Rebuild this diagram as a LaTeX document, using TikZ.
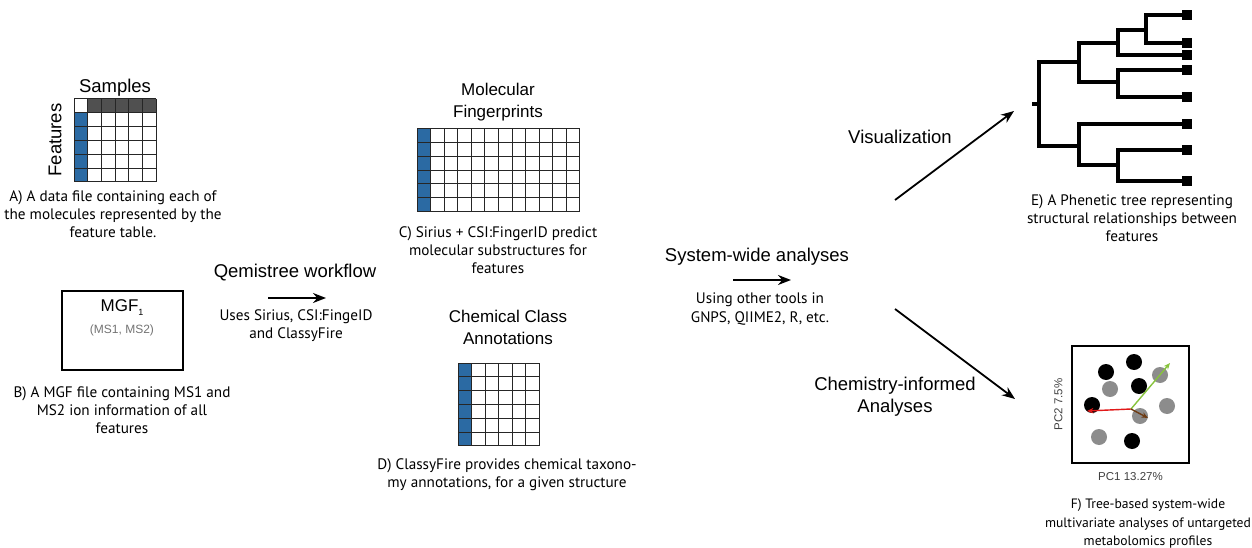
\documentclass[tikz,border=0pt]{standalone}
\usepackage{fontspec}
\setmainfont{PT Sans}
\newfontfamily\headfont{Liberation Sans}
\usetikzlibrary{arrows.meta,positioning}
\definecolor{cblue}{RGB}{43,106,163}
\definecolor{cheader}{RGB}{80,80,80}
\definecolor{cdot}{RGB}{140,140,140}
\definecolor{cgreen}{RGB}{135,195,60}
\definecolor{cred}{RGB}{225,25,25}
\definecolor{cbrown}{RGB}{110,60,20}

\begin{document}
\begin{tikzpicture}[x=1pt,y=-1pt,
    title/.style={font=\headfont\fontsize{18.5}{22.5}\selectfont, align=center, inner sep=0pt},
    subtitle/.style={font=\headfont\fontsize{17}{22}\selectfont, align=center, inner sep=0pt},
    caption/.style={font=\fontsize{15.2}{18.2}\selectfont, align=center, inner sep=0pt},
    flow/.style={line width=1.8pt, -{Stealth[length=13pt,width=10pt]}},
    cell/.style={draw=black!85, line width=1pt},
    branch/.style={line width=3.2pt},
    leaf/.style={fill=black, minimum size=10.5pt, inner sep=0pt},
    dot/.style={circle, minimum size=16pt, inner sep=0pt},
    loading/.style={line width=1.4pt, -{Stealth[length=6.5pt,width=5.5pt]}}]
  \useasboundingbox (0,0) rectangle (1252,548);

  % A) feature table
  \node[title] (Samples) at (115,88) {Samples};
  \node[title, rotate=90] (Features) at (55,140) {Features};
  \begin{scope}[shift={(74,99)}, x=13.67pt, y=-13.83pt]
    \fill[cheader] (1,0) rectangle (6,1);
    \fill[cblue] (0,1) rectangle (1,6);
    \foreach \i in {0,...,6} \draw[cell] (\i,0) -- (\i,6);
    \foreach \j in {0,...,6} \draw[cell] (0,\j) -- (6,\j);
  \end{scope}
  \node[caption] (CapA) at (113,214) {A) A data file containing each of\\the molecules represented by the\\feature table.};

  % B) MGF file
  \node[draw, line width=1.8pt, minimum width=121, minimum height=79] (MgfBox) at (122.5,330.5) {};
  \node[font=\headfont\fontsize{17}{18}\selectfont] (MgfName) at (122,308) {MGF\raisebox{-4pt}{\fontsize{9}{9}\selectfont 1}};
  \node[font=\headfont\fontsize{12}{13}\selectfont, text=black!55] (MgfMs) at (122,330) {(MS1, MS2)};
  \node[caption] (CapB) at (122,410) {B) A MGF file containing MS1 and\\MS2 ion information of all\\features};

  % workflow arrow
  \node[title] (Qemistree) at (295,273) {Qemistree workflow};
  \coordinate (QemStart) at (268,298);
  \coordinate (QemEnd) at (326,298);
  \draw[flow] (QemStart) -- (QemEnd);
  \node[caption] (QemTools) at (296,325.5) {Uses Sirius, CSI:FingeID\\and ClassyFire};

  % C) fingerprints
  \node[subtitle] (Fingerprints) at (498,102) {Molecular\\Fingerprints};
  \begin{scope}[shift={(417,129)}, x=13.58pt, y=-13.67pt]
    \fill[cblue] (0,0) rectangle (1,6);
    \foreach \i in {0,...,12} \draw[cell] (\i,0) -- (\i,6);
    \foreach \j in {0,...,6} \draw[cell] (0,\j) -- (12,\j);
  \end{scope}
  \node[caption] (CapC) at (498,250) {C) Sirius + CSI:FingerID predict\\molecular substructures for\\features};

  % D) class annotations
  \node[subtitle] (ClassTitle) at (508,327) {Chemical Class\\Annotations};
  \begin{scope}[shift={(458,363)}, x=13.5pt, y=-13.83pt]
    \fill[cblue] (0,0) rectangle (1,6);
    \foreach \i in {0,...,6} \draw[cell] (\i,0) -- (\i,6);
    \foreach \j in {0,...,6} \draw[cell] (0,\j) -- (6,\j);
  \end{scope}
  \node[caption] (CapD) at (507,474.5) {D) ClassyFire provides chemical taxono-\\my annotations, for a given structure};

  % system-wide analyses
  \node[title] (SystemWide) at (757,257) {System-wide analyses};
  \coordinate (SysStart) at (733,280);
  \coordinate (SysEnd) at (791,280);
  \draw[flow] (SysStart) -- (SysEnd);
  \node[caption] (SysTools) at (760,309) {Using other tools in\\GNPS, QIIME2, R, etc.};

  \node[title] (Visual) at (900,137) {Visualization};
  \coordinate (VisStart) at (895,200);
  \coordinate (VisEnd) at (1014,111);
  \draw[flow] (VisStart) -- (VisEnd);

  \node[title] (ChemInformed) at (895,396.5) {Chemistry-informed\\Analyses};
  \coordinate (ChemStart) at (895,309);
  \coordinate (ChemEnd) at (1015,399);
  \draw[flow] (ChemStart) -- (ChemEnd);

  % E) tree
  \foreach \n/\y in {1/15,2/43,3/55,4/70,5/97,6/124,7/150,8/181}
    \node[leaf] (Leaf\n) at (1187,\y) {};
  \draw[branch] (Leaf1.center) -- (1146,15) -- (1146,43) -- (Leaf2.center);
  \draw[branch] (1146,30) -- (1118,30) -- (1118,55) -- (Leaf3.center);
  \draw[branch] (Leaf4.center) -- (1118,70) -- (1118,97) -- (Leaf5.center);
  \draw[branch] (1118,43) -- (1079,43) -- (1079,82) -- (1118,82);
  \draw[branch] (Leaf7.center) -- (1118,150) -- (1118,181) -- (Leaf8.center);
  \draw[branch] (Leaf6.center) -- (1079,124) -- (1079,165) -- (1118,165);
  \draw[branch] (1079,62) -- (1039,62) -- (1039,146) -- (1079,146);
  \draw[branch] (1032,104) -- (1039,104);
  \node[caption] (CapE) at (1132,218) {E) A Phenetic tree representing\\structural relationships between\\features};

  % F) PCA
  \node[draw, line width=2.2pt, minimum size=117, inner sep=0pt] (PcaBox) at (1130.5,404.5) {};
  \node[font=\headfont\fontsize{11.5}{12}\selectfont, text=black!75, below=5pt of PcaBox] (PcOne) {PC1 13.27\%};
  \node[font=\headfont\fontsize{11.5}{12}\selectfont, text=black!75, rotate=90, left=5pt of PcaBox, anchor=south] (PcTwo) {PC2 7.5\%};
  \foreach \x/\y [count=\k] in {1110/389,1160/375,1167/406,1140/416,1099/437}
    \node[dot, fill=cdot] (Gray\k) at (\x,\y) {};
  \foreach \x/\y [count=\k] in {1106/372,1134/362,1139/386,1092/405,1132/441}
    \node[dot, fill=black] (Black\k) at (\x,\y) {};
  \coordinate (Origin) at (1131,409);
  \coordinate (RedEnd) at (1087,411);
  \coordinate (GreenEnd) at (1170,363);
  \coordinate (BrownEnd) at (1148,418);
  \draw[loading, cred] (Origin) -- (RedEnd);
  \draw[loading, cgreen] (Origin) -- (GreenEnd);
  \draw[loading, cbrown] (Origin) -- (BrownEnd);
  \node[caption, font=\fontsize{13.6}{18.5}\selectfont] (CapF) at (1148,524) {F) Tree-based system-wide\\multivariate analyses of untargeted\\metabolomics profiles};
\end{tikzpicture}
\end{document}
